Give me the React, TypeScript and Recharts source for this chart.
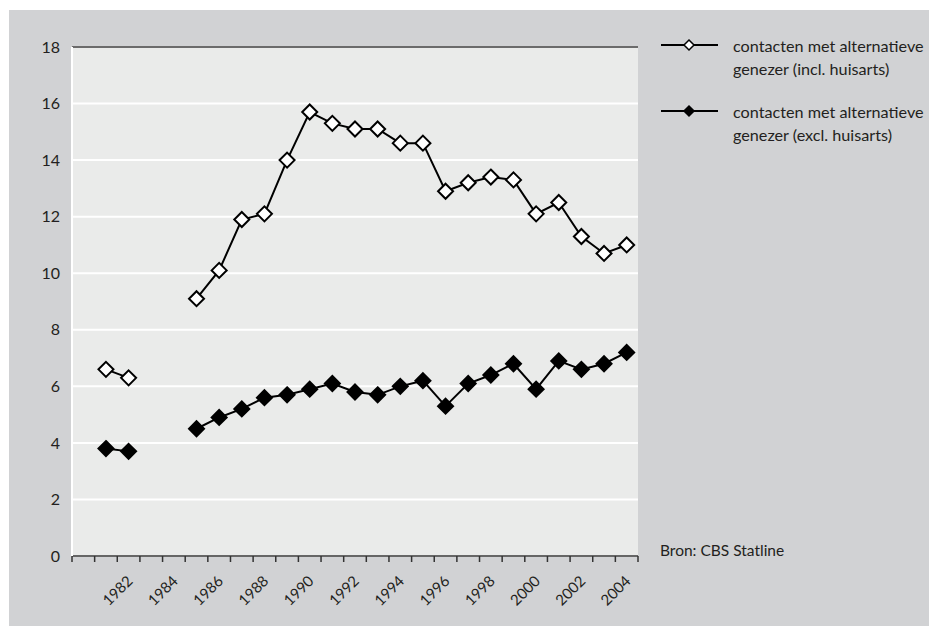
import { CartesianGrid, Line, LineChart, ReferenceLine, XAxis, YAxis } from "recharts";

const years = [
  1980, 1981, 1982, 1983, 1984, 1985, 1986, 1987, 1988, 1989, 1990, 1991, 1992,
  1993, 1994, 1995, 1996, 1997, 1998, 1999, 2000, 2001, 2002, 2003, 2004,
];
const inclHuisarts = [
  null, 6.6, 6.3, null, null, 9.1, 10.1, 11.9, 12.1, 14.0, 15.7, 15.3, 15.1,
  15.1, 14.6, 14.6, 12.9, 13.2, 13.4, 13.3, 12.1, 12.5, 11.3, 10.7, 11.0,
];
const exclHuisarts = [
  null, 3.8, 3.7, null, null, 4.5, 4.9, 5.2, 5.6, 5.7, 5.9, 6.1, 5.8,
  5.7, 6.0, 6.2, 5.3, 6.1, 6.4, 6.8, 5.9, 6.9, 6.6, 6.8, 7.2,
];
const labelYears = [1982, 1984, 1986, 1988, 1990, 1992, 1994, 1996, 1998, 2000, 2002, 2004];
const yTicks = [0, 2, 4, 6, 8, 10, 12, 14, 16, 18];
const seriesNames = [
  ["contacten met alternatieve", "genezer (incl. huisarts)"],
  ["contacten met alternatieve", "genezer (excl. huisarts)"],
];

const data = years.map((year, i) => ({
  year,
  incl: inclHuisarts[i],
  excl: exclHuisarts[i],
}));

// tick marks sit on the band edges, labels on the band centres
const boundaries = [...years.map((y) => y - 0.5), years[years.length - 1] + 0.5];
const xTicks = [...boundaries, ...labelYears].sort((a, b) => a - b);

const FONT = "Lato, 'Open Sans', sans-serif";
const INK = "#231f20";

const Diamond = (props: any) => {
  const { cx, cy, fill, value } = props;
  if (cx == null || cy == null || value == null) return null;
  const r = 7.5;
  return (
    <polygon
      points={`${cx},${cy - r} ${cx + r},${cy} ${cx},${cy + r} ${cx - r},${cy}`}
      fill={fill}
      stroke="#000"
      strokeWidth={2}
    />
  );
};

const XTick = (props: any) => {
  const { x, y, payload } = props;
  const v = payload.value;
  if (!Number.isInteger(v)) {
    return <line x1={x} x2={x} y1={y} y2={y + 6} stroke="#333" strokeWidth={1.5} />;
  }
  const ax = x + 5;
  const ay = y + 26;
  return (
    <text
      x={ax}
      y={ay}
      transform={`rotate(-45, ${ax}, ${ay})`}
      textAnchor="end"
      fontSize={15}
      fontFamily={FONT}
      fill={INK}
    >
      {v}
    </text>
  );
};

const LegendItem = ({ top, filled, lines }: { top: number; filled: boolean; lines: string[] }) => (
  <div style={{ position: "absolute", left: 660, top, display: "flex" }}>
    <svg width={60} height={20}>
      <line x1={1} x2={58} y1={10} y2={10} stroke="#000" strokeWidth={2} />
      <polygon
        points="29,5 34,10 29,15 24,10"
        fill={filled ? "#000" : "#fff"}
        stroke="#000"
        strokeWidth={1.5}
      />
    </svg>
    <div
      style={{
        marginLeft: 13,
        fontFamily: FONT,
        fontSize: 16.2,
        lineHeight: "23px",
        color: INK,
        marginTop: -1,
        whiteSpace: "nowrap",
      }}
    >
      {lines.map((l) => (
        <div key={l}>{l}</div>
      ))}
    </div>
  </div>
);

export default function App() {
  return (
    <div style={{ position: "absolute", left: 0, top: 0, width: 929, height: 626, background: "#fff", overflow: "hidden" }}>
      <div style={{ position: "absolute", left: 9, top: 10, width: 920, height: 616, background: "#d1d2d4" }} />
      <div style={{ position: "absolute", left: 0, top: 0 }}>
        <LineChart width={929} height={626} data={data} margin={{ top: 47, right: 291, bottom: 0, left: 0 }}>
          <CartesianGrid vertical={false} stroke="#fff" strokeWidth={2} fill="#eaebea" horizontalValues={yTicks} />
          <XAxis
            dataKey="year"
            type="number"
            domain={[boundaries[0], boundaries[boundaries.length - 1]]}
            ticks={xTicks}
            interval={0}
            tick={<XTick />}
            tickLine={false}
            tickSize={0}
            tickMargin={0}
            height={70}
            axisLine={{ stroke: "#333", strokeWidth: 1.5 }}
          />
          <YAxis
            domain={[0, 18]}
            ticks={yTicks}
            interval={0}
            width={72}
            tickLine={false}
            tickSize={6}
            tickMargin={6}
            axisLine={{ stroke: "#fff", strokeWidth: 2 }}
            tick={{ fontSize: 16, fontFamily: FONT, fill: INK }}
          />
          <ReferenceLine y={18} stroke="#3a3a3a" strokeWidth={1.5} />
          <Line
            dataKey="incl"
            stroke="#000"
            strokeWidth={2}
            dot={<Diamond fill="#fff" />}
            activeDot={false}
            isAnimationActive={false}
          />
          <Line
            dataKey="excl"
            stroke="#000"
            strokeWidth={2}
            dot={<Diamond fill="#000" />}
            activeDot={false}
            isAnimationActive={false}
          />
        </LineChart>
      </div>
      <LegendItem top={35} filled={false} lines={seriesNames[0]} />
      <LegendItem top={101} filled={true} lines={seriesNames[1]} />
      <div
        style={{
          position: "absolute",
          left: 660,
          top: 541,
          fontFamily: FONT,
          fontSize: 15.5,
          color: INK,
          whiteSpace: "nowrap",
        }}
      >
        Bron: CBS Statline
      </div>
    </div>
  );
}
